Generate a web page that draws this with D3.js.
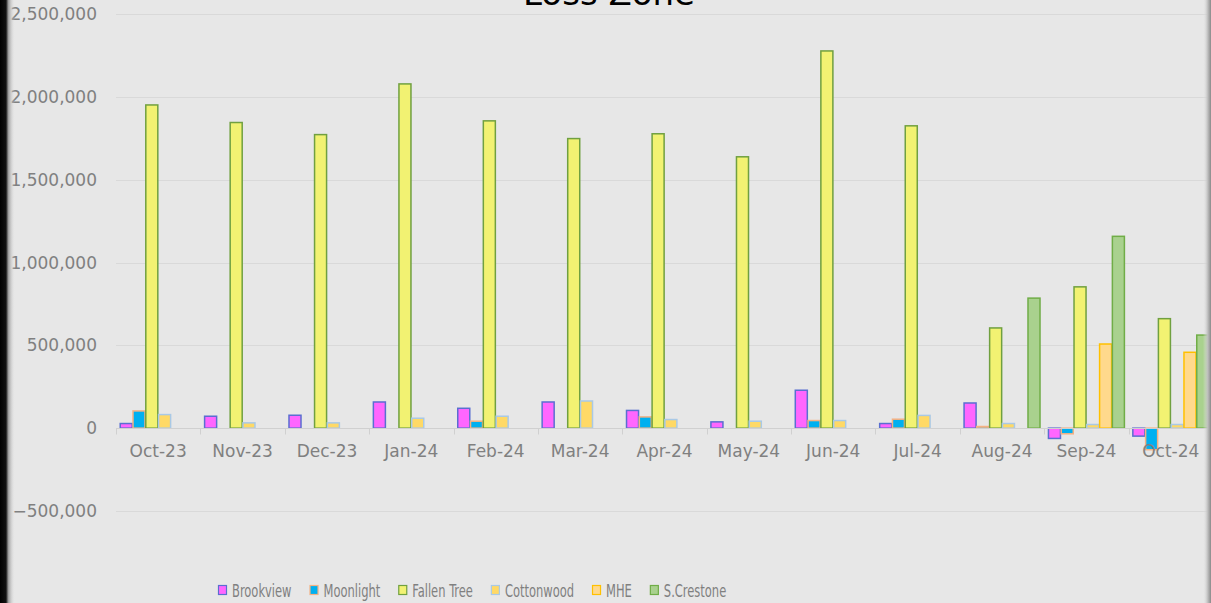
<!DOCTYPE html>
<html>
<head>
<meta charset="utf-8">
<script src="https://cdn.jsdelivr.net/npm/d3@7"></script>
<style>
  html, body { margin: 0; padding: 0; background: #e7e7e7; overflow: hidden; }
  svg { display: block; }
</style>
</head>
<body>
<div id="chart"></div>
<script>
var width = 1211;
var height = 603;

// data
var months = ["Oct-23", "Nov-23", "Dec-23", "Jan-24", "Feb-24", "Mar-24", "Apr-24",
    "May-24", "Jun-24", "Jul-24", "Aug-24", "Sep-24", "Oct-24"];
var seriesNames = ["Brookview", "Moonlight", "Fallen Tree", "Cottonwood", "MHE", "S.Crestone"];

var brookview  = [28000, 72000, 78000, 158000, 120000, 158000, 107000, 38000, 229000, 28000, 152000, -62000, -48000];
var moonlight  = [104000, 0, 0, 0, 42000, 0, 68000, 0, 46000, 54000, 10000, -34000, -130000];
var fallenTree = [1951000, 1845000, 1772000, 2078000, 1855000, 1748000, 1777000, 1638000, 2277000, 1825000, 605000, 853000, 661000];
var cottonwood = [82000, 32000, 32000, 60000, 72000, 164000, 52000, 42000, 46000, 77000, 28000, 22000, 22000];
var mhe        = [0, 0, 0, 0, 0, 0, 0, 0, 0, 0, 0, 508000, 458000];
var sCrestone  = [0, 0, 0, 0, 0, 0, 0, 0, 0, 0, 785000, 1158000, 562000];

var yTicks = [-500000, 0, 500000, 1000000, 1500000, 2000000, 2500000];

var fills   = ["#ff66ff", "#00b0f0", "#f2f272", "#ffd966", "#ffd98c", "#a9d18e"];
var strokes = ["#5a6fd0", "#f4b183", "#70a040", "#a9c9e6", "#ffc000", "#70ad47"];

var allSeries = [brookview, moonlight, fallenTree, cottonwood, mhe, sCrestone];

var margin = {left: 116, top: 14, bottom: 92};
var plotRight = 1213;

var svg = d3.select("#chart").append("svg")
    .attr("width", width)
    .attr("height", height);

svg.append("rect").attr("width", width).attr("height", height).attr("fill", "#e7e7e7");

var x = d3.scaleBand()
    .domain(months)
    .range([margin.left, plotRight])
    .paddingInner(0)
    .paddingOuter(0);

var x1 = d3.scaleBand()
    .domain(seriesNames)
    .range([0, x.bandwidth()])
    .paddingInner(0.06)
    .paddingOuter(0.33);

var y = d3.scaleLinear()
    .domain([-500000, 2500000])
    .range([511, 14]);

var fmt = d3.format(",");

// gridlines
svg.append("g")
    .selectAll("line")
    .data(yTicks)
    .join("line")
    .attr("x1", margin.left)
    .attr("x2", width)
    .attr("y1", function (d) { return Math.round(y(d)) + 0.5; })
    .attr("y2", function (d) { return Math.round(y(d)) + 0.5; })
    .attr("stroke", "#d9d9d9")
    .attr("stroke-width", 1);

// y labels
svg.append("g")
    .selectAll("text")
    .data(yTicks)
    .join("text")
    .attr("x", 97)
    .attr("y", function (d) { return y(d); })
    .attr("dy", "0.36em")
    .attr("text-anchor", "end")
    .attr("font-family", "DejaVu Sans")
    .attr("font-size", 17)
    .attr("fill", "#808080")
    .text(function (d) { return fmt(d); });

// bars
var groups = svg.append("g")
    .selectAll("g")
    .data(months)
    .join("g")
    .attr("transform", function (d) { return "translate(" + x(d) + ",0)"; });

groups.selectAll("rect")
    .data(function (m, i) {
        return seriesNames.map(function (s, j) {
            return {name: s, idx: j, value: allSeries[j][i]};
        });
    })
    .join("rect")
    .filter(function (d) { return d.value !== 0; })
    .attr("x", function (d) { return x1(d.name); })
    .attr("width", x1.bandwidth())
    .attr("y", function (d) { return Math.min(y(d.value), y(0)); })
    .attr("height", function (d) { return Math.abs(y(d.value) - y(0)); })
    .attr("fill", function (d) { return fills[d.idx]; })
    .attr("stroke", function (d) { return strokes[d.idx]; })
    .attr("stroke-width", 1.5);

// x axis line and ticks
var axisY = Math.round(y(0)) + 0.5;
svg.append("line")
    .attr("x1", margin.left).attr("x2", width)
    .attr("y1", axisY).attr("y2", axisY)
    .attr("stroke", "#d0d0d0");

svg.append("g")
    .selectAll("line")
    .data(months)
    .join("line")
    .attr("x1", function (d) { return Math.round(x(d)) + 0.5; })
    .attr("x2", function (d) { return Math.round(x(d)) + 0.5; })
    .attr("y1", axisY)
    .attr("y2", axisY + 6)
    .attr("stroke", "#d0d0d0");

svg.append("g")
    .selectAll("text")
    .data(months)
    .join("text")
    .attr("x", function (d) { return x(d) + x.bandwidth() / 2; })
    .attr("y", 457)
    .attr("text-anchor", "middle")
    .attr("font-family", "DejaVu Sans")
    .attr("font-size", 17)
    .attr("fill", "#808080")
    .text(function (d) { return d; });

// title (cut off at the top, as in the original)
svg.append("text")
    .attr("x", 609)
    .attr("y", 5)
    .attr("text-anchor", "middle")
    .attr("font-family", "DejaVu Sans")
    .attr("font-size", 34)
    .attr("fill", "#000")
    .text("Loss Zone");

// legend
var legend = svg.append("g");
var lx = 218;
seriesNames.forEach(function (name, i) {
    legend.append("rect")
        .attr("x", lx + 0.5)
        .attr("y", 585.5)
        .attr("width", 8)
        .attr("height", 9)
        .attr("fill", fills[i])
        .attr("stroke", strokes[i])
        .attr("stroke-width", 1.2);
    var t = legend.append("text")
        .attr("x", lx + 14)
        .attr("y", 596.5)
        .attr("font-family", "DejaVu Sans Condensed, DejaVu Sans")
        .attr("font-size", 17.5)
        .attr("fill", "#808080")
        .text(name);
    var w = t.node().getComputedTextLength() * 0.73;
    t.attr("textLength", w).attr("lengthAdjust", "spacingAndGlyphs");
    lx += 14 + w + 18;
});

// frame shadows
var defs = svg.append("defs");
var gl = defs.append("linearGradient").attr("id", "leftShade");
gl.append("stop").attr("offset", "0%").attr("stop-color", "#000");
gl.append("stop").attr("offset", "40%").attr("stop-color", "#111");
gl.append("stop").attr("offset", "55%").attr("stop-color", "#9a9a9a");
gl.append("stop").attr("offset", "100%").attr("stop-color", "#e7e7e7").attr("stop-opacity", 0);
svg.append("rect").attr("x", 0).attr("y", 0).attr("width", 15).attr("height", height)
    .attr("fill", "url(#leftShade)");

var gr = defs.append("linearGradient").attr("id", "rightShade");
gr.append("stop").attr("offset", "0%").attr("stop-color", "#e7e7e7").attr("stop-opacity", 0);
gr.append("stop").attr("offset", "60%").attr("stop-color", "#bdbdbd");
gr.append("stop").attr("offset", "100%").attr("stop-color", "#8a8a8a");
svg.append("rect").attr("x", 1203).attr("y", 0).attr("width", 8).attr("height", height)
    .attr("fill", "url(#rightShade)");
</script>
</body>
</html>
